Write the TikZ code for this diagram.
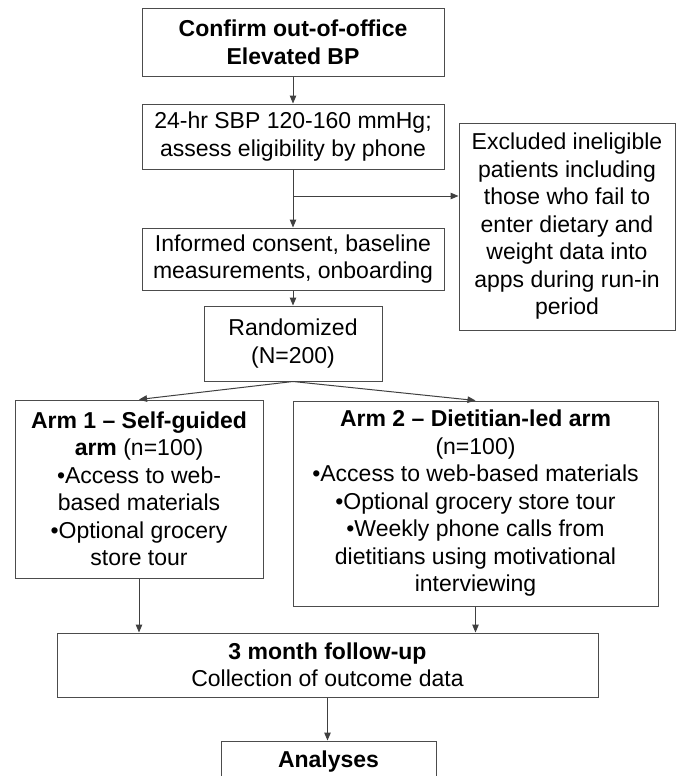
\documentclass[tikz,border=0pt]{standalone}
\usepackage{fontspec}
\setmainfont{Liberation Sans}
\usetikzlibrary{arrows.meta}

\begin{document}
\begin{tikzpicture}[x=1pt, y=-1pt,
        box/.style={draw=black!70, line width=1pt, align=center, inner sep=0pt,
            font=\fontsize{23}{27.5}\selectfont},
        arr/.style={draw=black!75, line width=1pt, -{Triangle[length=8pt, width=6.5pt]}}]
        \useasboundingbox (0,0) rectangle (678,776);
        \clip (0,0) rectangle (678,776);

        % Screening column
        \node[box, minimum width=302, minimum height=67] (confirm) at (293, 42.5) {\textbf{Confirm out-of-office}\\\textbf{Elevated BP}};
        \node[box, minimum width=302, minimum height=65] (sbp) at (293, 136.5) {24-hr SBP 120-160 mmHg;\\assess eligibility by phone};
        \node[box, minimum width=302, minimum height=62] (consent) at (293, 259) {Informed consent, baseline\\measurements, onboarding};
        \node[box, minimum width=178, minimum height=75] (rand) at (293, 343.5) {Randomized\\(N=200)};

        % Exclusions
        \node[box, minimum width=216, minimum height=207] (excl) at (567, 226.5) {Excluded ineligible\\patients including\\those who fail to\\enter dietary and\\weight data into\\apps during run-in\\period};
        \coordinate (split) at (293, 196);

        % Arms
        \node[box, minimum width=248, minimum height=178] (arm1) at (139, 489) {\textbf{Arm 1 – Self-guided}\\\textbf{arm} (n=100)\\\textbullet Access to web-\\based materials\\\textbullet Optional grocery\\store tour};
        \node[box, minimum width=365, minimum height=205] (arm2) at (475.5, 503.5) {\textbf{Arm 2 – Dietitian-led arm}\\(n=100)\\\textbullet Access to web-based materials\\\textbullet Optional grocery store tour\\\textbullet Weekly phone calls from\\dietitians using motivational\\interviewing};

        % Follow-up and analyses
        \node[box, minimum width=541, minimum height=64] (follow) at (327.5, 665) {\textbf{3 month follow-up}\\Collection of outcome data};
        \node[box, minimum width=215, minimum height=42] (analyses) at (328.5, 762) {\textbf{Analyses}};

        % Arrows
        \draw[arr] (confirm) -- (sbp);
        \draw[arr] (sbp) -- (consent);
        \draw[arr] (split) -- (split -| excl.west);
        \draw[arr] (consent) -- (rand);
        \draw[arr] (rand.south) -- (arm1.north);
        \draw[arr] (rand.south) -- (arm2.north);
        \draw[arr] (arm1.south) -- (arm1.south |- follow.north);
        \draw[arr] (arm2.south) -- (arm2.south |- follow.north);
        \draw[arr] (follow.south) -- (follow.south |- analyses.north);
    \end{tikzpicture}
\end{document}
